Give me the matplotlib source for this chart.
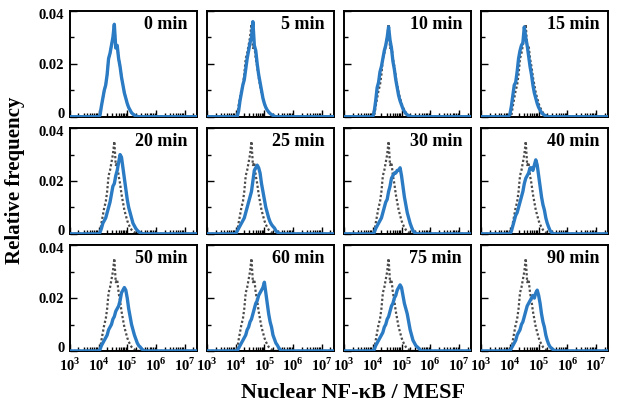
import numpy as np
import matplotlib
matplotlib.use('Agg')
import matplotlib.pyplot as plt
import matplotlib.transforms as mtransforms
from matplotlib.ticker import FixedLocator, LogLocator, NullFormatter

# log10 bin centres of the histograms (MESF)
LOG_BINS = [3.95, 4.00, 4.05, 4.10, 4.15, 4.20, 4.25, 4.30, 4.35, 4.40, 4.45, 4.50,
            4.55, 4.60, 4.65, 4.70, 4.75, 4.80, 4.85, 4.90, 4.95, 5.00, 5.05, 5.10,
            5.15, 5.20, 5.25, 5.30, 5.35, 5.40, 5.45, 5.50, 5.55, 5.60, 5.65, 5.70]

# 0 min distribution, drawn dotted in every panel as reference
REF = [0, 0, 0.0005, 0.004, 0.007, 0.010, 0.012, 0.016, 0.022, 0.024, 0.027, 0.030,
       0.035, 0.026, 0.027, 0.022, 0.019, 0.015, 0.012, 0.009, 0.007, 0.005, 0.0035, 0.0025,
       0.0015, 0.001, 0.0006, 0.0003, 0.0001, 0, 0, 0, 0, 0, 0, 0]

BLUE_5 = [0, 0, 0, 0.002, 0.006, 0.009, 0.012, 0.014, 0.018, 0.022, 0.025, 0.028,
          0.030, 0.036, 0.027, 0.025, 0.020, 0.016, 0.013, 0.010, 0.007, 0.005, 0.0035, 0.0025,
          0.0018, 0.0012, 0.0008, 0.0005, 0.0002, 0, 0, 0, 0, 0, 0, 0]
BLUE_10 = [0, 0, 0.002, 0.006, 0.011, 0.013, 0.017, 0.019, 0.022, 0.025, 0.027, 0.030,
           0.034, 0.029, 0.026, 0.021, 0.018, 0.014, 0.011, 0.008, 0.006, 0.0045, 0.003, 0.002,
           0.0012, 0.0007, 0.0004, 0.0002, 0, 0, 0, 0, 0, 0, 0, 0]
BLUE_15 = [0, 0.001, 0.004, 0.008, 0.012, 0.013, 0.017, 0.022, 0.025, 0.027, 0.028, 0.034,
           0.030, 0.027, 0.023, 0.019, 0.016, 0.012, 0.009, 0.007, 0.005, 0.0035, 0.0025, 0.0015,
           0.001, 0.0006, 0.0003, 0.0001, 0, 0, 0, 0, 0, 0, 0, 0]
BLUE_20 = [0, 0, 0.0005, 0.002, 0.004, 0.005, 0.006, 0.008, 0.010, 0.012, 0.015, 0.018,
           0.019, 0.022, 0.024, 0.027, 0.030, 0.029, 0.025, 0.021, 0.017, 0.013, 0.010, 0.008,
           0.006, 0.004, 0.003, 0.002, 0.0013, 0.0008, 0.0004, 0.0001, 0, 0, 0, 0]
BLUE_25 = [0, 0, 0.001, 0.002, 0.003, 0.004, 0.005, 0.006, 0.008, 0.010, 0.012, 0.014,
           0.016, 0.020, 0.024, 0.025, 0.026, 0.025, 0.023, 0.019, 0.016, 0.013, 0.010, 0.008,
           0.006, 0.0045, 0.0035, 0.0028, 0.0022, 0.0012, 0.0006, 0.0003, 0.0001, 0, 0, 0]
BLUE_30 = [0, 0, 0.0005, 0.002, 0.003, 0.004, 0.005, 0.006, 0.008, 0.010, 0.012, 0.013,
           0.016, 0.018, 0.021, 0.022, 0.023, 0.023, 0.024, 0.024, 0.025, 0.022, 0.018, 0.014,
           0.011, 0.008, 0.006, 0.004, 0.0025, 0.0012, 0.0005, 0.0002, 0, 0, 0, 0]
BLUE_40 = [0, 0, 0.001, 0.003, 0.005, 0.007, 0.008, 0.010, 0.012, 0.014, 0.016, 0.019,
           0.021, 0.022, 0.023, 0.025, 0.025, 0.024, 0.026, 0.028, 0.026, 0.022, 0.018, 0.014,
           0.011, 0.009, 0.006, 0.004, 0.0025, 0.0012, 0.0005, 0.0001, 0, 0, 0, 0]
BLUE_50 = [0, 0, 0.0005, 0.002, 0.003, 0.004, 0.005, 0.006, 0.008, 0.009, 0.010, 0.012,
           0.013, 0.015, 0.016, 0.017, 0.019, 0.022, 0.023, 0.024, 0.023, 0.020, 0.016, 0.013,
           0.010, 0.008, 0.006, 0.0045, 0.003, 0.002, 0.0015, 0.0008, 0.0003, 0.0001, 0, 0]
BLUE_60 = [0, 0, 0, 0.001, 0.002, 0.003, 0.004, 0.005, 0.006, 0.008, 0.009, 0.011,
           0.012, 0.014, 0.016, 0.018, 0.019, 0.021, 0.022, 0.023, 0.024, 0.026, 0.022, 0.018,
           0.014, 0.011, 0.009, 0.006, 0.0045, 0.003, 0.0022, 0.0012, 0.0005, 0.0002, 0, 0]
BLUE_75 = [0, 0, 0.0005, 0.002, 0.003, 0.004, 0.005, 0.006, 0.007, 0.009, 0.010, 0.012,
           0.013, 0.015, 0.017, 0.018, 0.020, 0.021, 0.023, 0.024, 0.025, 0.024, 0.021, 0.018,
           0.016, 0.014, 0.011, 0.008, 0.006, 0.004, 0.003, 0.002, 0.0015, 0.001, 0.0004, 0]
BLUE_90 = [0, 0, 0.001, 0.002, 0.003, 0.004, 0.006, 0.007, 0.008, 0.010, 0.011, 0.013,
           0.015, 0.017, 0.018, 0.019, 0.020, 0.021, 0.020, 0.022, 0.023, 0.021, 0.018, 0.014,
           0.011, 0.009, 0.006, 0.004, 0.0025, 0.0015, 0.001, 0.0005, 0.0002, 0, 0, 0]

TIMES = ['0 min', '5 min', '10 min', '15 min', '20 min', '25 min',
         '30 min', '40 min', '50 min', '60 min', '75 min', '90 min']
BLUE = [REF, BLUE_5, BLUE_10, BLUE_15, BLUE_20, BLUE_25,
        BLUE_30, BLUE_40, BLUE_50, BLUE_60, BLUE_75, BLUE_90]

X_DECADES = [3, 7.42]
DECADE_TICKS = [3, 4, 5, 6, 7]
Y_TICKS = [0, 0.02, 0.04]
Y_TICK_LABELS = ['0', '0.02', '0.04']

plt.rcParams['font.family'] = ['Liberation Serif', 'DejaVu Serif']
plt.rcParams['font.weight'] = 'bold'
plt.rcParams['mathtext.fontset'] = 'custom'
plt.rcParams['mathtext.rm'] = 'Liberation Serif:bold'
plt.rcParams['mathtext.bf'] = 'Liberation Serif:bold'

BLUE_COLOR = '#2a7bc4'
GREY_COLOR = '#4a4a4a'


def padded(values):
    # histograms sit on a zero baseline across the whole axis
    x = 10 ** np.concatenate([[X_DECADES[0]], LOG_BINS, [X_DECADES[1]]])
    y = np.concatenate([[0], values, [0]])
    return x, y


fig, axes = plt.subplots(3, 4, figsize=(6.18, 4.09), dpi=100)
fig.subplots_adjust(left=0.113, right=0.984, top=0.973, bottom=0.142,
                    wspace=0.081, hspace=0.108)

# nudge the end labels of the y axis inward, as in the original figure
nudge_up = mtransforms.ScaledTranslation(0, 2.5 / 72, fig.dpi_scale_trans)
nudge_down = mtransforms.ScaledTranslation(0, -2 / 72, fig.dpi_scale_trans)

for i, ax in enumerate(axes.flat):
    gx, gy = padded(REF)
    bx, by = padded(BLUE[i])
    ax.plot(gx, gy, color=GREY_COLOR, lw=1.6, ls=(0, (1, 1)), zorder=2)
    ax.plot(bx, by, color=BLUE_COLOR, lw=2.4, zorder=3)
    ax.set_xscale('log')
    ax.set_xlim(10 ** X_DECADES[0], 10 ** X_DECADES[1])
    ax.set_ylim(0, 0.04)
    ax.text(0.93, 0.87, TIMES[i], transform=ax.transAxes, ha='right', va='center',
            fontsize=13, fontweight='bold')

    ax.xaxis.set_major_locator(FixedLocator([10.0 ** d for d in DECADE_TICKS]))
    ax.xaxis.set_minor_locator(LogLocator(base=10, subs=np.arange(2, 10), numticks=20))
    ax.xaxis.set_minor_formatter(NullFormatter())
    ax.set_xticklabels([rf'$10^{{{d}}}$' for d in DECADE_TICKS])
    ax.set_yticks(Y_TICKS)
    ax.set_yticks([0.01, 0.03], minor=True)
    ax.set_yticklabels(Y_TICK_LABELS)
    ax.tick_params(which='both', direction='in', top=False, right=False, width=1.0)
    ax.tick_params(which='major', length=5, labelsize=10.5, pad=4)
    ax.tick_params(which='minor', length=3)
    for spine in ax.spines.values():
        spine.set_linewidth(1.4)

    ylabels = ax.get_yticklabels()
    ylabels[0].set_transform(ylabels[0].get_transform() + nudge_up)
    ylabels[-1].set_transform(ylabels[-1].get_transform() + nudge_down)

    row, col = divmod(i, 4)
    if row < 2:
        ax.tick_params(labelbottom=False)
    if col > 0:
        ax.tick_params(labelleft=False)

fig.text(0.025, 0.56, 'Relative frequency', rotation=90, ha='center', va='center',
         fontsize=15, fontweight='bold')
fig.text(0.572, 0.04, 'Nuclear NF-κB / MESF', ha='center', va='center',
         fontsize=16, fontweight='bold')

fig.savefig('out.png', dpi=100)
